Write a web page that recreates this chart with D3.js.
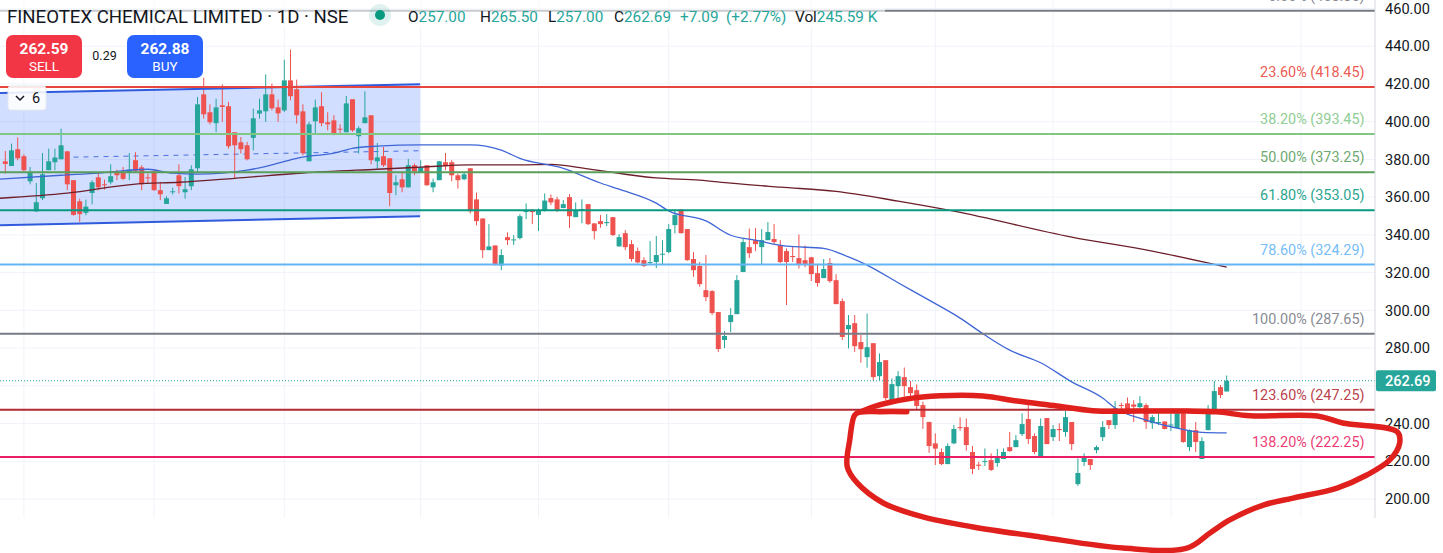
<!DOCTYPE html>
<html>
<head>
<meta charset="utf-8">
<title>FINEOTEX CHEMICAL LIMITED</title>
<script src="https://cdn.jsdelivr.net/npm/d3@7"></script>
<style>
html, body { margin: 0; padding: 0; background: #ffffff; overflow: hidden; }
text { font-family: Roboto, sans-serif; }
</style>
</head>
<body>
<div class="chart_container"></div>
<script>
// candles, one per trading day
var opens = [
    379.0,376.5,385.4,381.7,368.4,352.5,359.4,374.3,378.5,380.1,
    384.3,369.0,357.8,351.7,362.2,370.5,366.8,367.9,372.8,372.8,
    373.2,379.6,375.8,370.5,373.7,363.7,356.4,362.6,371.6,362.6,
    365.8,375.3,414.5,405.0,399.2,408.7,408.2,394.4,389.1,387.5,
    391.4,404.3,405.5,414.5,407.6,406.0,421.9,417.2,405.5,379.0,
    400.2,408.2,399.7,400.7,396.3,394.4,411.9,392.3,399.2,403.4,
    379.0,381.7,380.6,366.3,369.5,365.2,376.9,373.2,376.9,365.2,
    369.0,378.5,378.5,371.6,369.5,375.3,358.8,348.7,331.9,334.4,
    323.8,338.8,337.2,338.3,352.1,352.8,350.6,352.8,359.5,358.8,
    354.2,360.0,349.4,352.9,356.3,346.1,347.3,346.2,349.4,333.9,
    340.9,335.1,331.4,326.6,325.1,325.6,329.5,330.9,345.2,353.5,
    343.1,327.2,323.5,310.7,310.2,299.1,284.3,293.8,298.0,320.3,
    333.5,337.2,333.5,337.2,337.8,334.6,331.4,328.8,327.7,326.6,
    328.1,319.7,317.1,325.1,316.0,304.9,290.0,293.2,283.2,275.2,
    282.6,265.1,273.6,252.4,259.8,264.6,259.3,257.7,249.8,240.8,
    229.5,224.9,218.5,229.5,238.1,238.1,224.9,218.2,219.6,220.6,
    219.1,221.2,227.5,227.5,234.4,242.4,233.4,222.2,242.9,232.8,
    237.1,235.5,240.8,207.9,219.6,221.2,225.9,232.8,241.8,239.2,
    249.8,250.7,250.1,248.7,249.8,240.2,240.4,241.1,239.0,237.6,
    245.4,227.5,236.5,221.2,236.5,247.1,259.3,257.0
];
var highs = [
    384.5,388.4,391.6,382.7,376.0,367.5,383.4,385.7,385.7,396.3,
    384.3,369.0,359.2,358.7,369.0,372.8,369.3,377.4,374.6,376.0,
    383.4,383.8,376.9,372.5,374.6,368.1,360.5,365.1,377.4,370.7,
    376.9,413.1,423.3,409.2,412.2,419.8,410.5,394.4,391.9,389.3,
    406.9,412.2,425.1,420.2,411.7,432.9,438.2,422.3,409.2,399.9,
    411.7,415.6,405.0,403.4,398.6,413.6,411.9,397.6,416.1,403.4,
    388.7,386.6,380.6,371.6,373.4,380.3,377.8,379.6,376.9,369.8,
    379.2,383.4,379.6,372.5,373.2,375.3,362.5,348.7,345.7,334.4,
    332.3,341.3,339.9,351.0,356.7,353.5,354.0,362.0,361.4,360.2,
    358.4,361.6,357.2,358.8,356.3,346.1,350.5,351.0,349.4,340.4,
    342.5,337.2,333.3,328.1,336.7,339.4,337.2,345.7,353.5,353.5,
    343.1,330.9,325.6,329.3,310.7,299.1,289.0,301.2,318.7,338.1,
    343.4,343.6,343.1,346.8,345.7,337.2,332.8,333.7,340.2,334.4,
    328.4,324.0,327.2,327.7,319.2,306.3,297.5,297.5,286.9,298.3,
    282.6,277.2,273.6,263.9,267.8,269.7,262.5,260.7,251.6,241.0,
    234.8,226.8,229.5,239.2,243.3,242.7,228.1,219.8,226.8,224.2,
    226.5,226.8,235.5,233.9,245.4,249.8,234.8,242.7,242.9,239.2,
    240.1,246.6,240.8,221.5,224.2,221.2,228.4,241.3,241.8,251.9,
    251.0,253.8,252.4,254.5,250.7,244.5,245.7,241.1,245.4,245.4,
    246.1,236.9,240.8,232.7,249.8,262.5,260.4,265.5
];
var lows = [
    372.5,376.5,379.5,373.4,366.8,352.2,358.4,374.3,374.3,380.1,
    363.7,350.2,346.9,350.4,356.2,363.7,364.0,366.8,369.0,369.0,
    369.0,373.2,363.7,367.2,363.3,358.4,356.4,361.4,361.9,359.2,
    363.7,373.4,401.6,398.6,394.4,399.9,385.7,369.8,383.1,379.5,
    384.8,401.6,399.9,406.0,399.9,405.2,411.3,399.0,382.2,379.0,
    393.7,397.6,395.4,392.8,393.3,394.4,394.6,383.1,399.2,377.4,
    375.1,376.0,355.2,361.0,362.6,365.2,371.6,373.2,366.1,362.6,
    369.0,374.3,368.4,364.5,369.0,351.3,345.0,327.7,331.9,323.8,
    321.3,334.6,334.6,337.6,348.4,345.7,342.0,352.4,355.8,352.2,
    354.2,343.6,349.4,346.1,345.2,337.6,343.8,344.6,339.4,333.7,
    331.9,325.9,324.9,322.9,324.0,322.4,324.5,330.2,340.8,340.8,
    326.3,317.8,312.5,304.9,297.5,277.9,280.0,288.5,298.0,320.3,
    327.7,331.4,324.0,337.2,335.1,325.1,302.8,325.6,322.2,322.8,
    315.5,312.5,317.1,314.6,303.3,284.3,279.8,278.0,272.2,269.6,
    262.7,263.0,252.4,251.5,253.3,254.2,254.2,247.1,237.2,224.5,
    218.0,218.0,218.5,229.1,236.2,225.6,213.2,215.4,217.5,214.8,
    217.1,221.2,224.9,227.5,233.4,229.1,223.8,222.2,229.1,230.7,
    230.7,233.0,225.9,206.9,217.5,215.4,224.2,230.7,237.1,237.1,
    247.5,245.0,240.8,248.0,237.1,237.1,239.2,236.9,236.0,237.4,
    229.8,225.4,224.9,221.2,236.5,247.1,253.5,257.0
];
var closes = [
    377.6,384.8,380.6,374.3,373.2,357.3,372.1,379.0,381.0,387.5,
    366.8,350.6,351.0,355.0,367.9,365.2,366.3,371.1,371.6,369.7,
    374.6,373.9,366.8,370.0,363.7,361.5,359.4,363.1,365.8,364.2,
    374.8,409.2,403.9,399.7,407.6,407.8,387.0,387.5,385.4,380.1,
    401.8,406.0,414.5,407.1,404.4,421.9,413.5,403.4,383.3,398.6,
    407.6,399.2,398.6,393.9,395.8,409.7,395.4,396.5,402.3,379.6,
    381.1,376.9,362.2,367.9,365.2,376.9,373.7,375.8,366.3,367.9,
    379.0,376.4,371.6,369.0,372.1,352.5,347.3,331.9,333.9,324.0,
    329.3,337.2,337.6,349.9,352.8,352.1,352.8,358.2,357.2,352.8,
    356.3,349.9,352.8,353.7,345.7,342.0,345.7,346.8,339.9,338.8,
    333.5,327.2,325.4,323.5,325.6,329.3,330.0,343.1,350.5,340.9,
    326.6,321.3,313.9,307.0,298.6,279.5,286.4,297.5,316.0,336.2,
    330.3,335.1,337.2,341.5,336.2,325.6,325.6,328.2,324.5,324.0,
    319.2,314.5,321.9,315.5,303.3,285.9,292.2,281.0,279.4,280.5,
    264.6,272.6,253.5,260.9,265.1,259.8,256.1,249.3,243.4,228.1,
    226.7,218.5,228.1,237.1,237.6,228.6,215.9,217.6,220.1,215.4,
    221.7,224.9,225.4,231.2,239.7,231.8,224.9,238.7,229.1,237.1,
    236.5,243.4,229.1,213.8,222.8,218.0,227.5,238.1,239.2,248.0,
    249.3,245.4,248.9,250.8,240.8,243.4,240.8,237.1,239.5,245.4,
    230.2,236.5,230.2,230.7,247.1,257.2,255.1,262.69
];

// moving averages, read at the bar numbers next to them
var blueDays = [-1,9,15,23,27,31,39,44,47,49,53,56,60,67,75,80,83,90,96,99,105,107,113,117,121,126,132,136,139,144,149,154,158,162,167,172,177,179,184,188,193,197];
var blueValues = [369.5,371.6,372.7,374.8,372.7,372.2,374.3,378,380.6,381.7,383.3,385.9,387,387.7,387.7,384.9,380.6,375.3,367.5,364.2,356.8,352.7,347.4,339.8,337.2,334,332.9,328.3,324,314.6,305.4,295.9,286.9,278.9,272.2,262.1,253.5,248.2,241.8,238.3,235.3,235];
var maroonDays = [-1,10,21,28,37,48,60,67,75,83,88,94,105,112,117,125,134,144,153,172,185,197];
var maroonValues = [359.4,362.1,366.9,367.9,370,372.8,374.8,375.9,377.1,377.1,377.4,375,370.2,369,367.4,365.3,363.1,357.9,352.6,338.8,331.4,322.9];

// regression channel, bar numbers then upper / lower / middle prices
var channelDays = [-1, 66.9];
var channelUpper = [415.2, 419.8];
var channelLower = [345.1, 349.9];
var channelMidDays = [11, 67];
var channelMid = [381.2, 384.6];

// fibonacci retracement
var fibNames = ["0.00%", "23.60%", "38.20%", "50.00%", "61.80%", "78.60%", "100.00%", "123.60%", "138.20%"];
var fibPrices = ["458.85", "418.45", "393.45", "373.25", "353.05", "324.29", "287.65", "247.25", "222.25"];
var fibColors = ["#787b86", "#e8453c", "#81c784", "#5a9e5a", "#089981", "#64b5f6", "#787b86", "#b22833", "#e91e63"];

var priceTicks = [200,220,240,260,280,300,320,340,360,380,400,420,440,460];
var priceLabels = priceTicks.filter(function(d) { return d != 260; });
var monthTicks = [3,24,45,67,86,107,130,150,169,188,209];

// the hand drawn red loop, bar number and price
var loopDays = [145.4,141.1,137.9,137,136.2,135.8,137.4,141.6,148,156.1,166.9,180.3,190.6,194.3,197.5,202.9,207.7,214.8,219.6,223.3,224.9,224.5,215.7,211.6,200.8,195.4,190.6,183,175.4,169.6,163.2,157.7,150.8,145.4,140,137.9];
var loopPrices = [246.3,246.3,246.1,244.5,231.3,217,208.5,197.9,190.5,185.2,179.9,174,174,182,188.9,196.8,200.5,205.8,212.7,220.7,229.7,235.6,240.3,244,244.1,246.2,246.6,246.6,246.8,249.3,251.9,254.6,254.7,253,248.9,246.1];

var lastPrice = 262.69;
var green = "#26a69a";
var red = "#ef5350";

var width = 1443, height = 553, plotRight = 1375, plotBottom = 518;

var x = d3.scaleLinear().domain([0, 197]).range([5.3, 1226.7]);
var y = d3.scaleLinear().domain([200, 460]).range([499, 8.5]);

var svg = d3.select(".chart_container").append("svg")
    .attr("width", width)
    .attr("height", height)
    .style("display", "block");

// grid
var grid = svg.append("g").attr("stroke", "#f0f3fa").attr("stroke-width", 1);
grid.selectAll("line.h")
    .data(priceTicks)
    .enter().append("line")
        .attr("x1", 0).attr("x2", plotRight)
        .attr("y1", d => y(d)).attr("y2", d => y(d));
grid.selectAll("line.v")
    .data(monthTicks)
    .enter().append("line")
        .attr("x1", d => x(d)).attr("x2", d => x(d))
        .attr("y1", 0).attr("y2", plotBottom);

// channel fill and edges
svg.append("path")
    .attr("d", d3.area()
        .x((d, i) => x(channelDays[i]))
        .y0((d, i) => y(channelLower[i]))
        .y1((d, i) => y(channelUpper[i]))(channelDays))
    .attr("fill", "#2962ff")
    .attr("fill-opacity", 0.21);

var lineFor = function(days) {
    return d3.line().x((d, i) => x(days[i])).y(d => y(d));
};

svg.append("path")
    .attr("d", lineFor(channelMidDays)(channelMid))
    .attr("fill", "none")
    .attr("stroke", "#4a6fe0")
    .attr("stroke-width", 1)
    .attr("stroke-dasharray", "5 5");

// candles
var candles = svg.append("g")
    .selectAll("g")
    .data(opens)
    .enter().append("g")
        .attr("fill", (d, i) => closes[i] >= d ? green : red)
        .attr("stroke", (d, i) => closes[i] >= d ? green : red);
candles.append("line")
    .attr("x1", (d, i) => x(i)).attr("x2", (d, i) => x(i))
    .attr("y1", (d, i) => y(highs[i])).attr("y2", (d, i) => y(lows[i]))
    .attr("stroke-width", 1);
candles.append("rect")
    .attr("x", (d, i) => x(i) - 2.5)
    .attr("width", 5)
    .attr("y", (d, i) => y(Math.max(d, closes[i])))
    .attr("height", (d, i) => Math.max(1, Math.abs(y(d) - y(closes[i]))))
    .attr("stroke", "none");

// moving averages
svg.append("path")
    .attr("d", lineFor(maroonDays).curve(d3.curveMonotoneX)(maroonValues))
    .attr("fill", "none")
    .attr("stroke", "#6d1f2a")
    .attr("stroke-width", 1.3);
svg.append("path")
    .attr("d", lineFor(blueDays).curve(d3.curveMonotoneX)(blueValues))
    .attr("fill", "none")
    .attr("stroke", "#3f66d6")
    .attr("stroke-width", 1.3);

// channel edges
[channelUpper, channelLower].forEach(function(edge) {
    svg.append("path")
        .attr("d", lineFor(channelDays)(edge))
        .attr("fill", "none")
        .attr("stroke", "#2f5bdc")
        .attr("stroke-width", 2);
});

// fib levels and their labels
svg.append("g").selectAll("line")
    .data(fibPrices)
    .enter().append("line")
        .attr("x1", 0).attr("x2", plotRight)
        .attr("y1", d => y(+d)).attr("y2", d => y(+d))
        .attr("stroke", (d, i) => fibColors[i])
        .attr("stroke-width", 2);
svg.append("g").selectAll("text")
    .data(fibPrices)
    .enter().append("text")
        .attr("x", 1364.5)
        .attr("y", d => y(+d) - 10)
        .attr("text-anchor", "end")
        .attr("font-size", 14.4)
        .attr("fill", (d, i) => fibColors[i])
        .attr("fill-opacity", 0.9)
        .text((d, i) => fibNames[i] + " (" + d + ")");

// last price dotted line
svg.append("line")
    .attr("x1", 0).attr("x2", plotRight)
    .attr("y1", y(lastPrice)).attr("y2", y(lastPrice))
    .attr("stroke", green)
    .attr("stroke-width", 1)
    .attr("stroke-dasharray", "1 2");

// price axis
var axis = svg.append("g")
    .attr("transform", "translate(" + plotRight + ",0)")
    .call(d3.axisRight(y).tickValues(priceLabels).tickSize(0).tickPadding(10).tickFormat(d3.format(".2f")));
axis.select(".domain").remove();
axis.selectAll("text")
    .attr("font-size", 14.6)
    .attr("fill", "#131722");
svg.append("line")
    .attr("x1", plotRight).attr("x2", plotRight)
    .attr("y1", 0).attr("y2", plotBottom)
    .attr("stroke", "#d6d8de");

svg.append("rect")
    .attr("x", plotRight + 1).attr("y", y(lastPrice) - 10.5)
    .attr("width", 60).attr("height", 21)
    .attr("rx", 2)
    .attr("fill", green);
svg.append("text")
    .attr("x", plotRight + 10).attr("y", y(lastPrice) + 5.5)
    .attr("font-size", 14.6)
    .attr("font-weight", 500)
    .attr("fill", "#ffffff")
    .text(d3.format(".2f")(lastPrice));

// header: the top fib line fades under the legend
svg.append("rect")
    .attr("x", 0).attr("y", 0)
    .attr("width", 885).attr("height", 28)
    .attr("fill", "#ffffff")
    .attr("fill-opacity", 0.6);
svg.append("text")
    .attr("x", 7).attr("y", 23)
    .attr("font-size", 18.6)
    .attr("fill", "#131722")
    .text("FINEOTEX CHEMICAL LIMITED · 1D · NSE");
svg.append("circle").attr("cx", 380).attr("cy", 15).attr("r", 11).attr("fill", "#089981").attr("fill-opacity", 0.13);
svg.append("circle").attr("cx", 380).attr("cy", 15).attr("r", 5).attr("fill", "#089981");

var legendItems = [
    { x: 408, label: "O", value: "257.00" },
    { x: 480, label: "H", value: "265.50" },
    { x: 548, label: "L", value: "257.00" },
    { x: 614, label: "C", value: "262.69" },
    { x: 680, label: "", value: "+7.09" },
    { x: 726, label: "", value: "(+2.77%)" },
    { x: 795, label: "Vol", value: "245.59 K" }
];
var legend = svg.append("g").selectAll("text")
    .data(legendItems)
    .enter().append("text")
        .attr("x", d => d.x)
        .attr("y", 22)
        .attr("font-size", 15.3);
legend.append("tspan").attr("fill", "#131722").text(d => d.label);
legend.append("tspan").attr("fill", green).text(d => d.value);

// sell / buy buttons
var buttons = [
    { x: 6, fill: "#f23645", price: "262.59", name: "SELL" },
    { x: 127, fill: "#2962ff", price: "262.88", name: "BUY" }
];
buttons.forEach(function(b) {
    svg.append("rect")
        .attr("x", b.x).attr("y", 35)
        .attr("width", 76).attr("height", 43)
        .attr("rx", 7)
        .attr("fill", b.fill);
    svg.append("text")
        .attr("x", b.x + 38).attr("y", 54)
        .attr("text-anchor", "middle")
        .attr("font-size", 15.5)
        .attr("font-weight", 700)
        .attr("fill", "#ffffff")
        .text(b.price);
    svg.append("text")
        .attr("x", b.x + 38).attr("y", 71)
        .attr("text-anchor", "middle")
        .attr("font-size", 13.5)
        .attr("fill", "#ffffff")
        .text(b.name);
});
svg.append("text")
    .attr("x", 104.5).attr("y", 60)
    .attr("text-anchor", "middle")
    .attr("font-size", 12.5)
    .attr("fill", "#131722")
    .text("0.29");

// collapsed indicators box
svg.append("rect")
    .attr("x", 8).attr("y", 86)
    .attr("width", 38).attr("height", 24)
    .attr("rx", 3)
    .attr("fill", "#ffffff")
    .attr("fill-opacity", 0.88)
    .attr("stroke", "#e6e8ef");
svg.append("path")
    .attr("d", "M16 96 L20 100 L24 96")
    .attr("fill", "none")
    .attr("stroke", "#131722")
    .attr("stroke-width", 1.5);
svg.append("text")
    .attr("x", 32).attr("y", 103)
    .attr("font-size", 14.5)
    .attr("fill", "#131722")
    .text("6");

// hand drawn loop on top of everything
svg.append("path")
    .attr("d", d3.line()
        .x((d, i) => x(loopDays[i]))
        .y(d => y(d))
        .curve(d3.curveCatmullRom)(loopPrices))
    .attr("fill", "none")
    .attr("stroke", "#e0201c")
    .attr("stroke-width", 5.5)
    .attr("stroke-linecap", "round")
    .attr("stroke-linejoin", "round");
</script>
</body>
</html>
